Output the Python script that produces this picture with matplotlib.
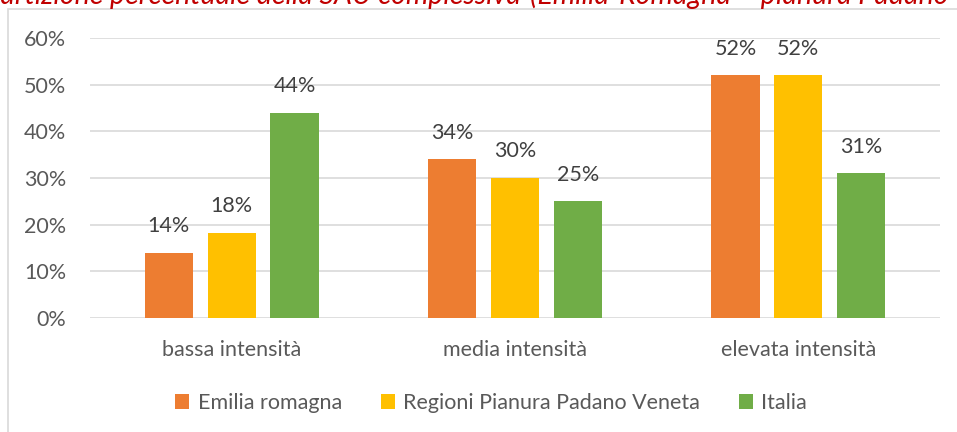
import numpy as np
import matplotlib.pyplot as plt
from matplotlib.patches import Rectangle

categories = ["bassa intensità", "media intensità", "elevata intensità"]
series = ["Emilia romagna", "Regioni Pianura Padano Veneta", "Italia"]
emilia = [14, 34, 52]
padano = [18.3, 30, 52]
italia = [44, 25, 31]
labels_emilia = ["14%", "34%", "52%"]
labels_padano = ["18%", "30%", "52%"]
labels_italia = ["44%", "25%", "31%"]
colors = ["#ED7D31", "#FFC000", "#70AD47"]

plt.rcParams["font.family"] = ["Lato", "DejaVu Sans"]
TXT = "#595959"
FS = 15.5

fig = plt.figure(figsize=(9.57, 4.32), dpi=100)
ax = fig.add_axes([90 / 957, 1 - 318 / 432, 850 / 957, 280 / 432])

# chart border, runs off the right and bottom edges
fig.patches.append(Rectangle((8 / 957, -0.1), 1.2, 1 - 9 / 432 + 0.1,
                             transform=fig.transFigure, fill=False,
                             edgecolor="#D9D9D9", linewidth=1.2))

# title sits above the crop, only its lower part shows
ty = 1 - 4 / 432
fig.text(527 / 957, ty, "Ripartizione percentuale della SAU complessiva ",
         color="#C00000", style="italic", fontsize=20.5, ha="right", va="baseline")
fig.text(530 / 957, ty, "(Emilia-Romagna – pianura Padano Veneta)",
         color="#C00000", style="italic", fontsize=20.5, ha="left", va="baseline")

x = np.arange(len(categories))
w = 0.17
step = 0.222
data = [emilia, padano, italia]
labs = [labels_emilia, labels_padano, labels_italia]
for i, (vals, lab) in enumerate(zip(data, labs)):
    bars = ax.bar(x + (i - 1) * step, vals, w, color=colors[i], label=series[i], zorder=3)
    ax.bar_label(bars, labels=lab, padding=12, fontsize=FS, color="#404040")

ax.set_xlim(-0.5, 2.5)
ax.set_ylim(0, 60)
ax.set_yticks(range(0, 61, 10))
ax.set_yticklabels([f"{v}%" for v in range(0, 61, 10)])
ax.set_xticks(x)
ax.set_xticklabels(categories)
ax.tick_params(length=0, labelsize=FS, colors=TXT)
ax.tick_params(axis="x", pad=16)
ax.tick_params(axis="y", pad=17)
ax.grid(axis="y", color="#D9D9D9", linewidth=1.2, zorder=0)
for s in ax.spines.values():
    s.set_visible(False)

ax.legend(loc="center", bbox_to_anchor=(491 / 957, 1 - 403 / 432),
          bbox_transform=fig.transFigure, ncol=3, frameon=False,
          fontsize=FS, labelcolor=TXT, handlelength=0.65, handleheight=0.65,
          handletextpad=0.4, columnspacing=1.8)

plt.savefig("out.png", dpi=100)
